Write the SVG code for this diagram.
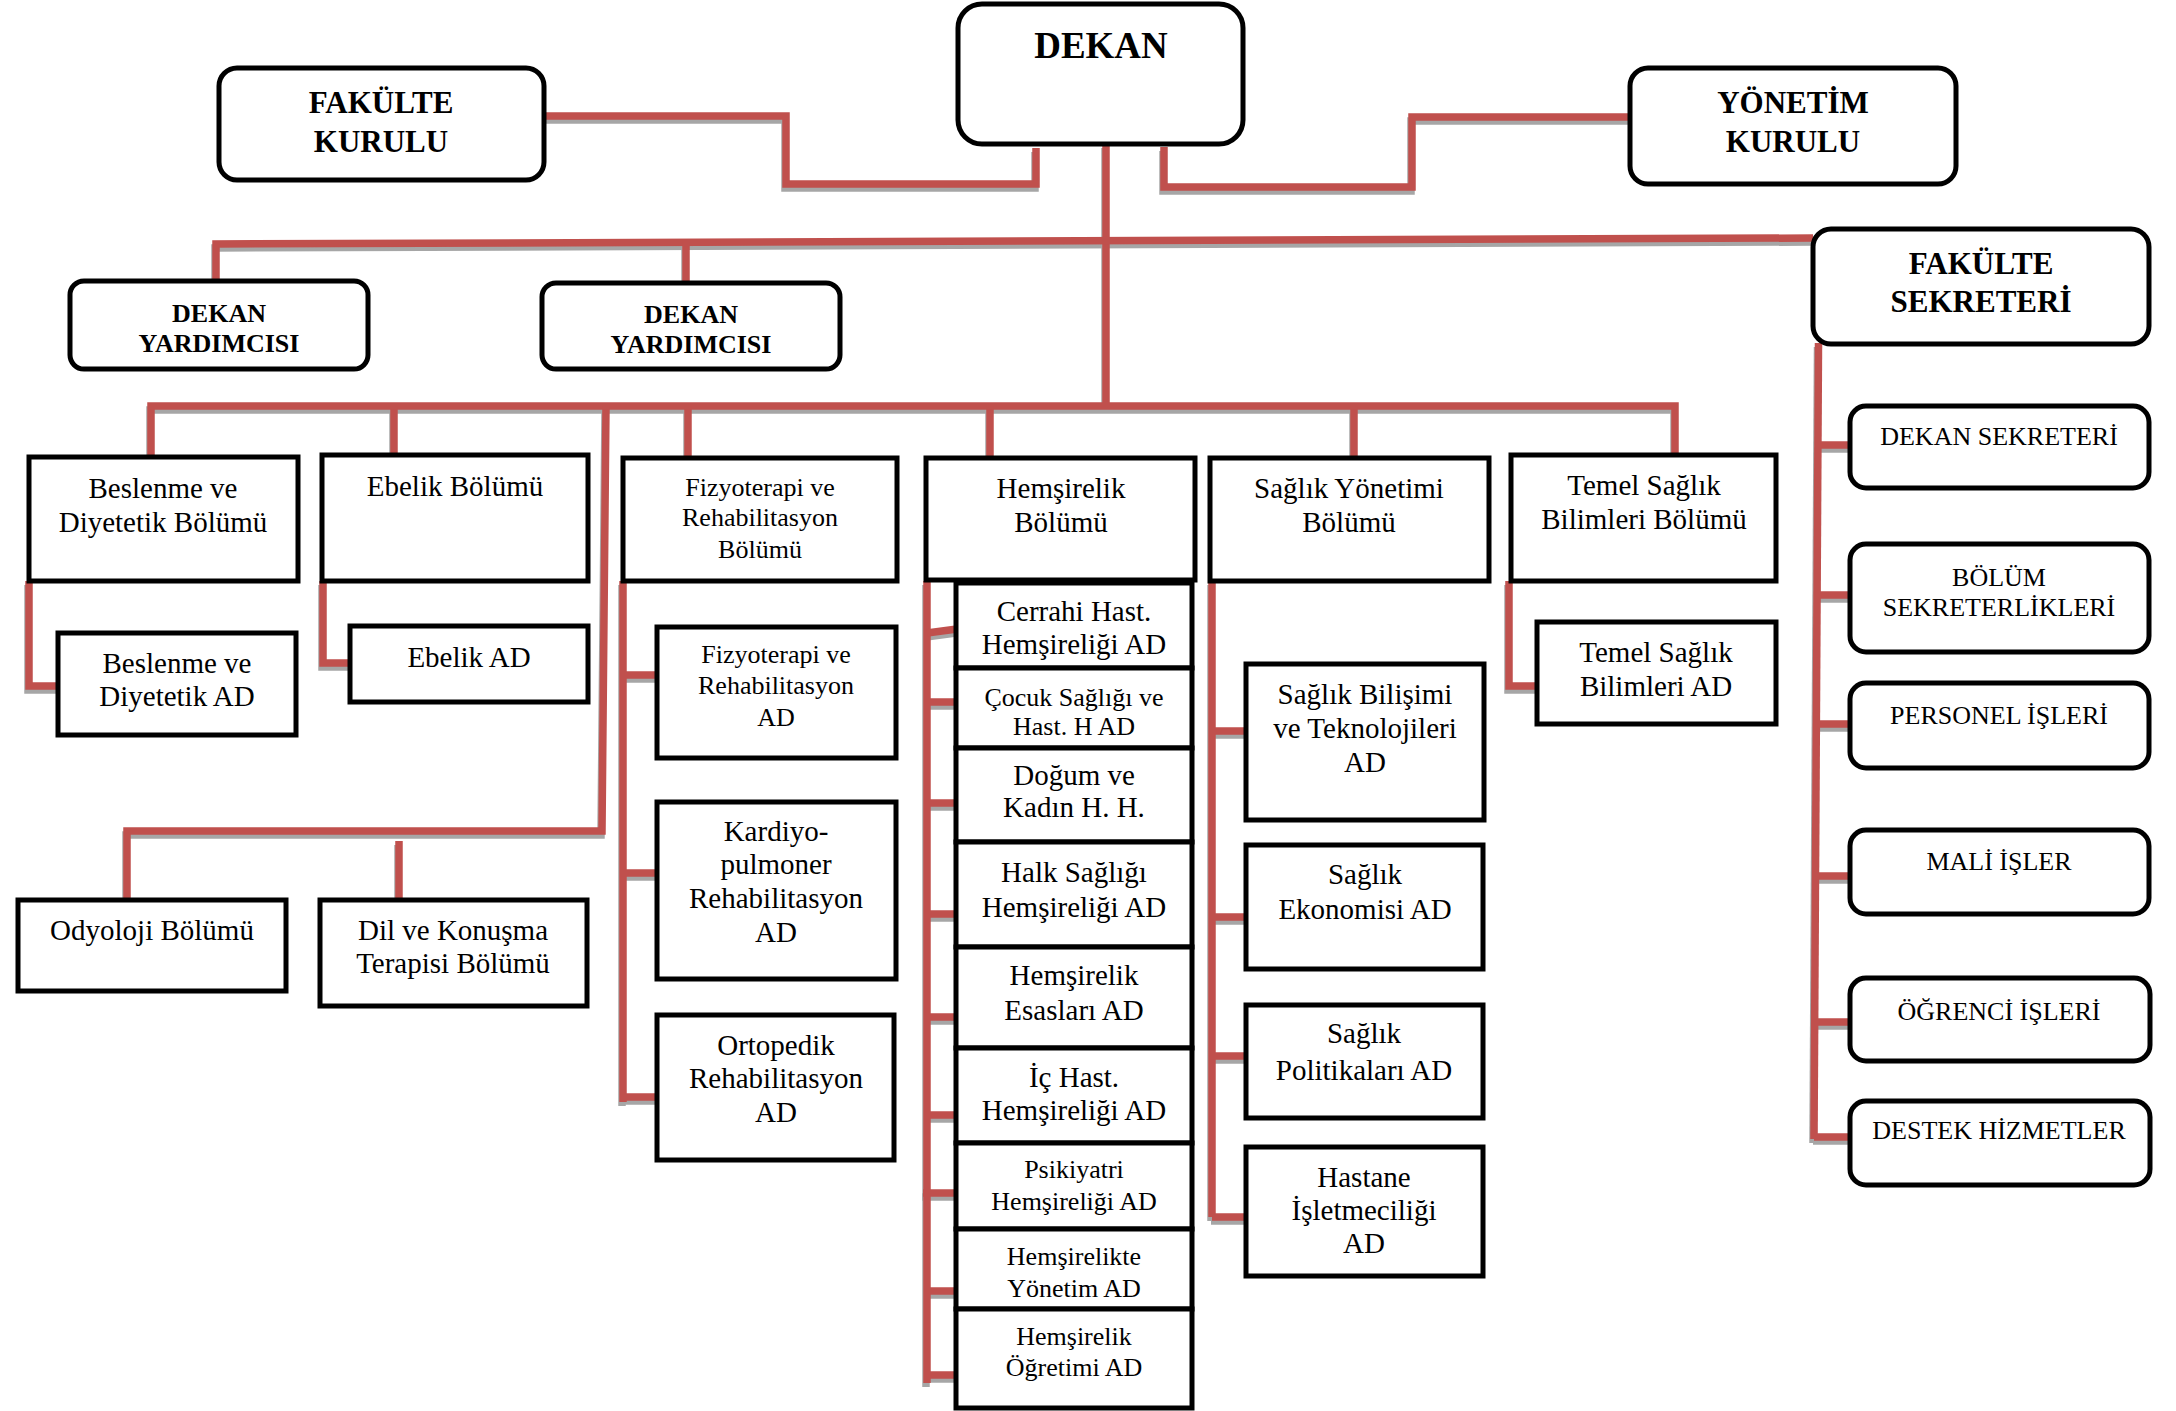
<svg xmlns="http://www.w3.org/2000/svg" xmlns:xlink="http://www.w3.org/1999/xlink" width="2176" height="1411" viewBox="0 0 2176 1411">
<style>
.r{fill:#fff;stroke:#000;stroke-width:5}
.t{font-family:"Liberation Serif","Times New Roman",serif;font-size:29px;text-anchor:middle;fill:#000}
.b{font-weight:bold}
.s{font-size:26px}
.h1{font-size:37px}
.h2{font-size:31px}
.h3{font-size:26px}
.ln{fill:none;stroke:#C0504D;stroke-width:7.5}
.sh{fill:none;stroke:#A6A6A6;stroke-width:7.5}
</style>
<defs>
<g id="wires">
<path d="M544 116 H786 V184 H1036 V148"/>
<path d="M1164 147 V187 H1412 V117 H1630"/>
<path d="M1106 144 V406"/>
<path d="M216 281 V244 L1813 238"/>
<path d="M686 242 V283"/>
<path d="M151 459 V406 H1675 V455"/>
<path d="M394 406 V455"/>
<path d="M688 406 V458"/>
<path d="M990 406 V458"/>
<path d="M1354 406 V458"/>
<path d="M606 406 L602 831 H127 V898"/>
<path d="M399 841 V900"/>
<path d="M29 581 V686 H60"/>
<path d="M323 581 V663 H352"/>
<path d="M1509 581 V686 H1539"/>
<path d="M623 581 V1102"/>
<path d="M623 675 H658 M623 873 H658 M623 1097 H658"/>
<path d="M927 581 V1383"/>
<path d="M927 633 L957 629 M927 702 H957 M927 803 H957 M927 914 H957 M927 1017 H957 M927 1115 H957 M923 1193 H957 M927 1291 H957 M927 1375 H957"/>
<path d="M1212 581 V1217"/>
<path d="M1212 731 H1247 M1212 917 H1247 M1212 1056 H1247 M1212 1217 H1247"/>
<path d="M1818.5 343 L1814 1139"/>
<path d="M1818 445 H1851 M1817 595 H1851 M1817 724 H1856 M1816 876 H1853 M1815 1022 H1856 M1814 1137 H1851"/>
</g>
</defs>
<g id="connectors">
<use xlink:href="#wires" class="sh" transform="translate(-1,4)"/>
<use xlink:href="#wires" class="ln"/>
</g>

<g id="dekan"><rect class="r" x="958" y="4" width="285" height="140" rx="24"/><text class="t b h1" x="1101" y="58">DEKAN</text></g>
<g id="fakulte-kurulu"><rect class="r" x="219" y="68" width="325" height="112" rx="18"/><text class="t b h2"><tspan x="381" y="113">FAKÜLTE</tspan><tspan x="381" y="152">KURULU</tspan></text></g>
<g id="yonetim-kurulu"><rect class="r" x="1630" y="68" width="326" height="116" rx="18"/><text class="t b h2"><tspan x="1793" y="113">YÖNETİM</tspan><tspan x="1793" y="152">KURULU</tspan></text></g>
<g id="fakulte-sekreteri"><rect class="r" x="1813" y="229" width="336" height="115" rx="18"/><text class="t b h2"><tspan x="1981" y="274">FAKÜLTE</tspan><tspan x="1981" y="312">SEKRETERİ</tspan></text></g>
<g id="dekan-yardimcisi-1"><rect class="r" x="70" y="281" width="298" height="88" rx="14"/><text class="t b h3"><tspan x="219" y="322">DEKAN</tspan><tspan x="219" y="352">YARDIMCISI</tspan></text></g>
<g id="dekan-yardimcisi-2"><rect class="r" x="542" y="283" width="298" height="86" rx="14"/><text class="t b h3"><tspan x="691" y="323">DEKAN</tspan><tspan x="691" y="353">YARDIMCISI</tspan></text></g>

<g id="dekan-sekreteri"><rect class="r" x="1850" y="406" width="299" height="82" rx="16"/><text class="t s" x="1999" y="445">DEKAN SEKRETERİ</text></g>
<g id="bolum-sekreterlikleri"><rect class="r" x="1850" y="544" width="299" height="108" rx="16"/><text class="t s"><tspan x="1999" y="586">BÖLÜM</tspan><tspan x="1999" y="616">SEKRETERLİKLERİ</tspan></text></g>
<g id="personel-isleri"><rect class="r" x="1850" y="683" width="299" height="85" rx="16"/><text class="t s" x="1999" y="724">PERSONEL İŞLERİ</text></g>
<g id="mali-isler"><rect class="r" x="1850" y="830" width="299" height="84" rx="16"/><text class="t s" x="1999" y="870">MALİ İŞLER</text></g>
<g id="ogrenci-isleri"><rect class="r" x="1850" y="978" width="300" height="83" rx="16"/><text class="t s" x="1999" y="1020">ÖĞRENCİ İŞLERİ</text></g>
<g id="destek-hizmetler"><rect class="r" x="1850" y="1101" width="300" height="84" rx="16"/><text class="t s" x="1999" y="1139">DESTEK HİZMETLER</text></g>

<g id="beslenme-bolumu"><rect class="r" x="29" y="457" width="269" height="124"/><text class="t"><tspan x="163" y="498">Beslenme ve</tspan><tspan x="163" y="532">Diyetetik Bölümü</tspan></text></g>
<g id="ebelik-bolumu"><rect class="r" x="322" y="455" width="266" height="126"/><text class="t" x="455" y="496">Ebelik Bölümü</text></g>
<g id="fizyoterapi-bolumu"><rect class="r" x="623" y="458" width="274" height="123"/><text class="t s"><tspan x="760" y="496">Fizyoterapi ve</tspan><tspan x="760" y="526">Rehabilitasyon</tspan><tspan x="760" y="558">Bölümü</tspan></text></g>
<g id="hemsirelik-bolumu"><rect class="r" x="926" y="458" width="269" height="122"/><text class="t"><tspan x="1061" y="498">Hemşirelik</tspan><tspan x="1061" y="532">Bölümü</tspan></text></g>
<g id="saglik-yonetimi-bolumu"><rect class="r" x="1210" y="458" width="279" height="123"/><text class="t"><tspan x="1349" y="498">Sağlık Yönetimi</tspan><tspan x="1349" y="532">Bölümü</tspan></text></g>
<g id="temel-saglik-bolumu"><rect class="r" x="1511" y="455" width="265" height="126"/><text class="t"><tspan x="1644" y="495">Temel Sağlık</tspan><tspan x="1644" y="529">Bilimleri Bölümü</tspan></text></g>

<g id="beslenme-ad"><rect class="r" x="58" y="633" width="238" height="102"/><text class="t"><tspan x="177" y="673">Beslenme ve</tspan><tspan x="177" y="706">Diyetetik AD</tspan></text></g>
<g id="ebelik-ad"><rect class="r" x="350" y="626" width="238" height="76"/><text class="t" x="469" y="667">Ebelik AD</text></g>
<g id="temel-saglik-ad"><rect class="r" x="1537" y="622" width="239" height="102"/><text class="t"><tspan x="1656" y="662">Temel Sağlık</tspan><tspan x="1656" y="696">Bilimleri AD</tspan></text></g>

<g id="fizyoterapi-ad"><rect class="r" x="657" y="627" width="239" height="131"/><text class="t s"><tspan x="776" y="663">Fizyoterapi ve</tspan><tspan x="776" y="694">Rehabilitasyon</tspan><tspan x="776" y="726">AD</tspan></text></g>
<g id="kardiyopulmoner-ad"><rect class="r" x="657" y="802" width="239" height="177"/><text class="t"><tspan x="776" y="841">Kardiyo-</tspan><tspan x="776" y="874">pulmoner</tspan><tspan x="776" y="908">Rehabilitasyon</tspan><tspan x="776" y="942">AD</tspan></text></g>
<g id="ortopedik-ad"><rect class="r" x="657" y="1015" width="237" height="145"/><text class="t"><tspan x="776" y="1055">Ortopedik</tspan><tspan x="776" y="1088">Rehabilitasyon</tspan><tspan x="776" y="1122">AD</tspan></text></g>

<g id="odyoloji-bolumu"><rect class="r" x="18" y="900" width="268" height="91"/><text class="t" x="152" y="940">Odyoloji Bölümü</text></g>
<g id="dil-konusma-bolumu"><rect class="r" x="320" y="900" width="267" height="106"/><text class="t"><tspan x="453" y="940">Dil ve Konuşma</tspan><tspan x="453" y="973">Terapisi Bölümü</tspan></text></g>

<g id="cerrahi-ad"><rect class="r" x="956" y="583" width="236" height="85"/><text class="t"><tspan x="1074" y="621">Cerrahi Hast.</tspan><tspan x="1074" y="654">Hemşireliği AD</tspan></text></g>
<g id="cocuk-ad"><rect class="r" x="956" y="668" width="236" height="80"/><text class="t s"><tspan x="1074" y="706">Çocuk Sağlığı ve</tspan><tspan x="1074" y="735">Hast. H AD</tspan></text></g>
<g id="dogum-ad"><rect class="r" x="956" y="748" width="236" height="94"/><text class="t"><tspan x="1074" y="785">Doğum ve</tspan><tspan x="1074" y="817">Kadın H. H.</tspan></text></g>
<g id="halk-sagligi-ad"><rect class="r" x="956" y="842" width="236" height="105"/><text class="t"><tspan x="1074" y="882">Halk Sağlığı</tspan><tspan x="1074" y="917">Hemşireliği AD</tspan></text></g>
<g id="esaslari-ad"><rect class="r" x="956" y="947" width="236" height="101"/><text class="t"><tspan x="1074" y="985">Hemşirelik</tspan><tspan x="1074" y="1020">Esasları AD</tspan></text></g>
<g id="ic-hast-ad"><rect class="r" x="956" y="1048" width="236" height="95"/><text class="t"><tspan x="1074" y="1087">İç Hast.</tspan><tspan x="1074" y="1120">Hemşireliği AD</tspan></text></g>
<g id="psikiyatri-ad"><rect class="r" x="956" y="1143" width="236" height="86"/><text class="t s"><tspan x="1074" y="1178">Psikiyatri</tspan><tspan x="1074" y="1210">Hemşireliği AD</tspan></text></g>
<g id="yonetim-ad"><rect class="r" x="956" y="1229" width="236" height="80"/><text class="t s"><tspan x="1074" y="1265">Hemşirelikte</tspan><tspan x="1074" y="1297">Yönetim AD</tspan></text></g>
<g id="ogretimi-ad"><rect class="r" x="956" y="1309" width="236" height="99"/><text class="t s"><tspan x="1074" y="1345">Hemşirelik</tspan><tspan x="1074" y="1376">Öğretimi AD</tspan></text></g>

<g id="bilisim-ad"><rect class="r" x="1246" y="664" width="238" height="156"/><text class="t"><tspan x="1365" y="704">Sağlık Bilişimi</tspan><tspan x="1365" y="738">ve Teknolojileri</tspan><tspan x="1365" y="772">AD</tspan></text></g>
<g id="ekonomi-ad"><rect class="r" x="1246" y="845" width="237" height="124"/><text class="t"><tspan x="1365" y="884">Sağlık</tspan><tspan x="1365" y="919">Ekonomisi AD</tspan></text></g>
<g id="politika-ad"><rect class="r" x="1246" y="1005" width="237" height="113"/><text class="t"><tspan x="1364" y="1043">Sağlık</tspan><tspan x="1364" y="1080">Politikaları AD</tspan></text></g>
<g id="hastane-ad"><rect class="r" x="1246" y="1147" width="237" height="129"/><text class="t"><tspan x="1364" y="1187">Hastane</tspan><tspan x="1364" y="1220">İşletmeciliği</tspan><tspan x="1364" y="1253">AD</tspan></text></g>
</svg>
